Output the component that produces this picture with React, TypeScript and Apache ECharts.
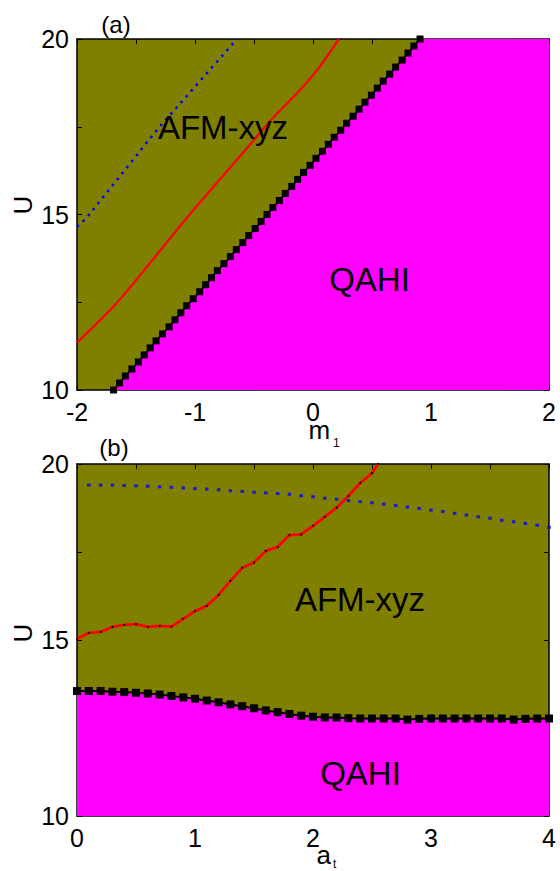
import React, { useEffect, useRef } from 'react';
import * as echarts from 'echarts';

const FONT = 'Liberation Sans';
const OLIVE = '#808000';
const MAGENTA = '#ff00ff';

// Panel (a): phase boundary (U values and corresponding m1)
const BOUND_A_U = [10, 10.2, 10.4, 10.6, 10.8, 11, 11.2, 11.4, 11.6, 11.8, 12, 12.2, 12.4, 12.6, 12.8, 13, 13.2, 13.4, 13.6, 13.8, 14, 14.2, 14.4, 14.6, 14.8, 15, 15.2, 15.4, 15.6, 15.8, 16, 16.2, 16.4, 16.6, 16.8, 17, 17.2, 17.4, 17.6, 17.8, 18, 18.2, 18.4, 18.6, 18.8, 19, 19.2, 19.4, 19.6, 19.8, 20];
const BOUND_A_M = [-1.69, -1.64, -1.59, -1.535, -1.48, -1.43, -1.38, -1.33, -1.275, -1.22, -1.17, -1.12, -1.07, -1.015, -0.96, -0.91, -0.86, -0.81, -0.755, -0.7, -0.65, -0.595, -0.545, -0.49, -0.44, -0.39, -0.34, -0.285, -0.235, -0.18, -0.13, -0.08, -0.025, 0.025, 0.08, 0.13, 0.18, 0.235, 0.285, 0.34, 0.39, 0.44, 0.495, 0.545, 0.595, 0.65, 0.7, 0.755, 0.805, 0.855, 0.907];
// Panel (a): red line
const RED_A_M = [-2, -1.66, -1.07, -0.6, -0.34, -0.1, 0.05, 0.22];
const RED_A_U = [11.35, 12.49, 14.9, 16.73, 17.75, 18.58, 19.18, 20];
// Panel (a): blue dotted line
const BLUE_A_M = [-2, -1.92, -1.31, -0.644];
const BLUE_A_U = [14.65, 14.9, 17.46, 20];

// Panel (b): phase boundary
const BOUND_B_A = [0, 0.1, 0.2, 0.3, 0.4, 0.5, 0.6, 0.7, 0.8, 0.9, 1, 1.1, 1.2, 1.3, 1.4, 1.5, 1.6, 1.7, 1.8, 1.9, 2, 2.1, 2.2, 2.3, 2.4, 2.5, 2.6, 2.7, 2.8, 2.9, 3, 3.1, 3.2, 3.3, 3.4, 3.5, 3.6, 3.7, 3.8, 3.9, 4];
const BOUND_B_U = [13.55, 13.55, 13.55, 13.53, 13.52, 13.5, 13.48, 13.45, 13.41, 13.37, 13.33, 13.28, 13.23, 13.17, 13.12, 13.06, 13.0, 12.95, 12.9, 12.85, 12.82, 12.8, 12.8, 12.78, 12.77, 12.77, 12.77, 12.77, 12.74, 12.76, 12.77, 12.77, 12.77, 12.77, 12.77, 12.77, 12.77, 12.74, 12.76, 12.77, 12.77];
// Panel (b): red line
const RED_B_A = [0, 0.1, 0.2, 0.3, 0.4, 0.5, 0.6, 0.7, 0.8, 0.9, 1, 1.1, 1.2, 1.3, 1.4, 1.5, 1.6, 1.7, 1.8, 1.9, 2, 2.1, 2.2, 2.3, 2.4, 2.5, 2.55];
const RED_B_U = [15.03, 15.2, 15.23, 15.37, 15.43, 15.45, 15.37, 15.4, 15.38, 15.6, 15.82, 15.97, 16.28, 16.68, 17.05, 17.2, 17.53, 17.64, 17.98, 18.0, 18.24, 18.5, 18.76, 19.09, 19.46, 19.74, 20];
// Panel (b): blue dotted
const BLUE_B_A = [0.1, 0.2, 0.3, 0.4, 0.5, 0.6, 0.7, 0.8, 0.9, 1, 1.1, 1.2, 1.3, 1.4, 1.5, 1.6, 1.7, 1.8, 1.9, 2, 2.1, 2.2, 2.3, 2.4, 2.5, 2.6, 2.7, 2.8, 2.9, 3, 3.1, 3.2, 3.3, 3.4, 3.5, 3.6, 3.7, 3.8, 3.9, 4];
const BLUE_B_U = [19.4, 19.4, 19.4, 19.39, 19.38, 19.37, 19.35, 19.34, 19.32, 19.3, 19.29, 19.27, 19.24, 19.22, 19.2, 19.18, 19.16, 19.14, 19.1, 19.07, 19.03, 19.0, 18.96, 18.93, 18.9, 18.86, 18.82, 18.78, 18.74, 18.69, 18.65, 18.6, 18.55, 18.5, 18.46, 18.4, 18.36, 18.31, 18.26, 18.2];

const X_A_RANGE = [-2, 2];
const X_B_RANGE = [0, 4];
const Y_RANGE = [10, 20];

const zip = (xs: number[], ys: number[]) => xs.map((x, i) => [x, ys[i]]);

function xAx(grid: number, pos: string, range: number[], labels: boolean) {
  return {
    type: 'value', gridIndex: grid, position: pos, min: range[0], max: range[1], interval: 0.5,
    axisLine: { show: true, onZero: false, lineStyle: { color: '#000', width: 1.5 } },
    axisTick: { show: true, inside: true, length: 5, lineStyle: { color: '#000', width: 1 } },
    splitLine: { show: false },
    axisLabel: labels
      ? { show: true, margin: 11.5, fontSize: 25, lineHeight: 20, color: '#000', fontFamily: FONT, formatter: (v: number) => (Number.isInteger(v) ? String(v) : '') }
      : { show: false },
  };
}
function yAx(grid: number, pos: string, labels: boolean) {
  return {
    type: 'value', gridIndex: grid, position: pos, min: Y_RANGE[0], max: Y_RANGE[1], interval: 2.5,
    axisLine: { show: true, onZero: false, lineStyle: { color: '#000', width: 1.5 } },
    axisTick: { show: true, inside: true, length: 5, lineStyle: { color: '#000', width: 1 } },
    splitLine: { show: false },
    axisLabel: labels
      ? { show: true, margin: 8, fontSize: 25, color: '#000', fontFamily: FONT, formatter: (v: number) => (v % 5 === 0 ? String(v) : '') }
      : { show: false },
  };
}

function txt(text: string, x: number, y: number, size: number, align = 'center', rotation = 0, lineHeight?: number) {
  return {
    type: 'text', x, y, rotation, z: 100,
    style: { text, fontSize: size, fontFamily: FONT, fill: '#000', align, verticalAlign: 'middle', lineHeight: lineHeight ?? size },
  };
}

export default function App() {
  const ref = useRef<HTMLDivElement>(null);
  useEffect(() => {
    const chart = echarts.init(ref.current!, null, { renderer: 'svg' });
    const boundA = zip(BOUND_A_M, BOUND_A_U);
    const boundB = zip(BOUND_B_A, BOUND_B_U);
    const option: any = {
      animation: false,
      backgroundColor: '#fff',
      textStyle: { fontFamily: FONT },
      grid: [
        { left: 77, top: 39, width: 472, height: 351, show: true, backgroundColor: OLIVE, borderWidth: 0 },
        { left: 77, top: 464, width: 472, height: 352, show: true, backgroundColor: OLIVE, borderWidth: 0 },
      ],
      xAxis: [xAx(0, 'bottom', X_A_RANGE, true), xAx(0, 'top', X_A_RANGE, false), xAx(1, 'bottom', X_B_RANGE, true), xAx(1, 'top', X_B_RANGE, false)],
      yAxis: [yAx(0, 'left', true), yAx(0, 'right', false), yAx(1, 'left', true), yAx(1, 'right', false)],
      series: [
        {
          type: 'line', xAxisIndex: 0, yAxisIndex: 0, data: [...boundA, [X_A_RANGE[1], Y_RANGE[1]]],
          showSymbol: false, lineStyle: { width: 0 }, areaStyle: { color: MAGENTA, opacity: 1, origin: 'start' }, z: 1,
        },
        {
          type: 'line', xAxisIndex: 0, yAxisIndex: 0, data: boundA, symbol: 'rect', symbolSize: 7,
          itemStyle: { color: '#000' }, lineStyle: { color: '#000', width: 1.5 }, z: 3,
        },
        {
          type: 'line', xAxisIndex: 0, yAxisIndex: 0, data: zip(RED_A_M, RED_A_U), showSymbol: false, smooth: 0.3,
          lineStyle: { color: '#ff0000', width: 2.3 }, z: 4,
        },
        {
          type: 'line', xAxisIndex: 0, yAxisIndex: 0, data: zip(BLUE_A_M, BLUE_A_U), showSymbol: false,
          lineStyle: { color: '#0000ff', width: 2.5, type: [2.5, 5.2] }, z: 4,
        },
        {
          type: 'line', xAxisIndex: 2, yAxisIndex: 2, data: boundB,
          showSymbol: false, lineStyle: { width: 0 }, areaStyle: { color: MAGENTA, opacity: 1, origin: 'start' }, z: 1,
        },
        {
          type: 'line', xAxisIndex: 2, yAxisIndex: 2, data: boundB, symbol: 'rect', symbolSize: 8,
          itemStyle: { color: '#000' }, lineStyle: { color: '#000', width: 2 }, z: 3,
        },
        {
          type: 'line', xAxisIndex: 2, yAxisIndex: 2, data: zip(RED_B_A, RED_B_U), symbol: 'circle', symbolSize: 2,
          itemStyle: { color: '#000' }, lineStyle: { color: '#ff0000', width: 2.8 }, z: 4,
        },
        {
          type: 'scatter', xAxisIndex: 2, yAxisIndex: 2, data: zip(BLUE_B_A, BLUE_B_U), symbol: 'rect', symbolSize: [3.5, 3],
          itemStyle: { color: '#0000ff' }, z: 4,
        },
      ],
      graphic: [
        txt('(a)', 116, 24, 24),
        txt('(b)', 114, 447, 24),
        txt('U', 23, 205, 26, 'center', Math.PI / 2),
        txt('U', 23, 633, 26, 'center', Math.PI / 2),
        txt('m', 308.5, 430, 26, 'left', 0, 14),
        txt('1', 333, 443, 12, 'left', 0, 10),
        txt('a', 316.5, 855, 26, 'left', 0, 14),
        txt('t', 333, 864, 12, 'left', 0, 10),
        txt('AFM-xyz', 223, 127, 33),
        txt('QAHI', 369.5, 279, 33),
        txt('AFM-xyz', 360, 599, 33),
        txt('QAHI', 360.5, 773.5, 33),
      ],
    };
    chart.setOption(option);
    return () => chart.dispose();
  }, []);
  return <div ref={ref} style={{ position: 'fixed', left: 0, top: 0, width: 560, height: 871, background: '#fff' }} />;
}
